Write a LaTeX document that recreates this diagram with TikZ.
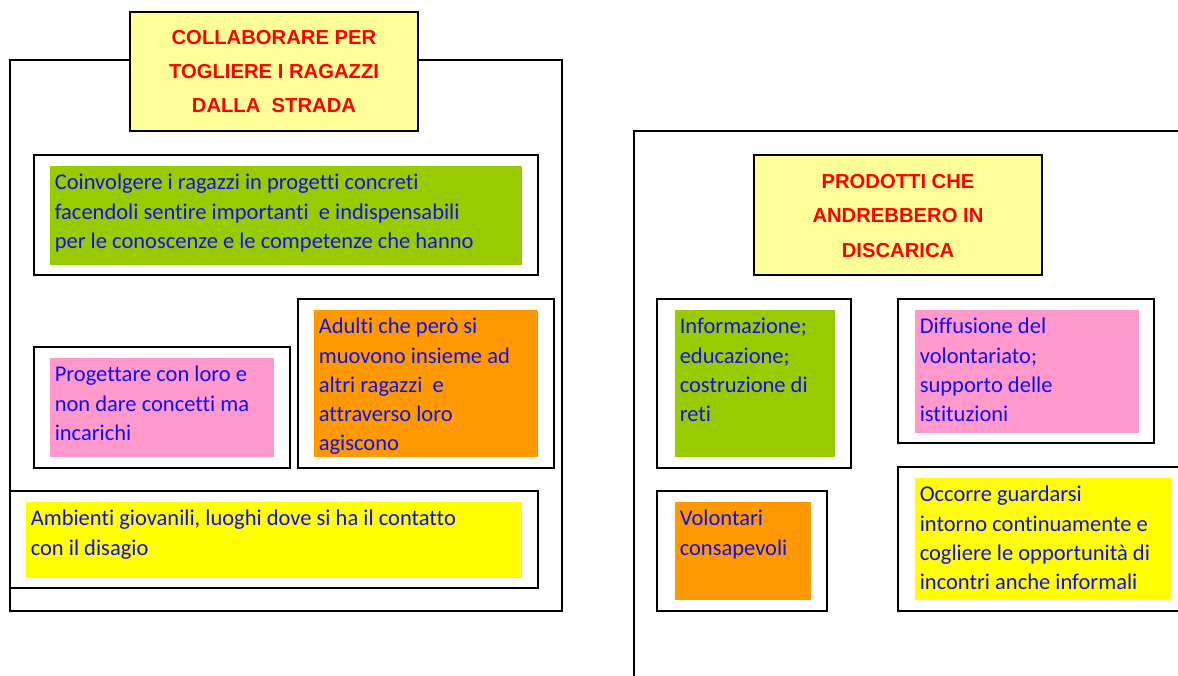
\documentclass[tikz,border=0pt]{standalone}
\usepackage{fontspec}
\setmainfont{Carlito}[Ligatures={NoCommon,NoContextual}]
\newfontfamily\titlefont{Liberation Sans}
\usetikzlibrary{calc}

\definecolor{txtblue}{RGB}{16,16,235}
\definecolor{titlered}{RGB}{255,0,0}
\definecolor{paleyellow}{RGB}{255,255,153}
\definecolor{boxgreen}{RGB}{153,204,0}
\definecolor{boxpink}{RGB}{255,153,204}
\definecolor{boxorange}{RGB}{255,153,0}
\definecolor{boxyellow}{RGB}{255,255,0}

\tikzset{
  frame/.style={draw=black,line width=1.3pt},
  titlebox/.style={draw=black,line width=1.3pt,fill=paleyellow},
  titletext/.style={align=center,text=titlered,font=\titlefont\bfseries\fontsize{14.4}{24.2}\selectfont},
  bodytext/.style={anchor=north west,align=left,inner xsep=3.2pt,inner ysep=5.7pt,text=txtblue,font=\fontsize{16}{20.8}\selectfont}
}

\begin{document}
\begin{tikzpicture}[x=0.025cm,y=-0.025cm]
   \useasboundingbox (0,0) rectangle (1178,676);

   % left group
   \draw[frame] (10,60) rectangle (562,611);
   \filldraw[titlebox] (130,12) rectangle (418,131);
   \node[titletext] (t1) at (274,72) {COLLABORARE PER\\TOGLIERE I RAGAZZI\\DALLA\ \ STRADA};

   \coordinate (a1) at (50,166);
   \coordinate (a2) at (50,358);
   \coordinate (a3) at (314,310);
   \coordinate (a4) at (26,502);

   \draw[frame] (34,155) rectangle (538,275);
   \fill[boxgreen] (a1) rectangle (522,265);
   \draw[frame] (34,347) rectangle (290,468);
   \fill[boxpink] (a2) rectangle (274,457);
   \draw[frame] (298,299) rectangle (554,468);
   \fill[boxorange] (a3) rectangle (538,457);
   \draw[frame] (10,491) rectangle (538,588);
   \fill[boxyellow] (a4) rectangle (522,578);

   \node[bodytext] (l1) at (a1) {Coinvolgere i ragazzi in progetti concreti\\facendoli sentire importanti\ \ e indispensabili\\per le conoscenze e le competenze che hanno};
   \node[bodytext] (l2) at (a2) {Progettare con loro e\\non dare concetti ma\\incarichi};
   \node[bodytext] (l3) at (a3) {Adulti che però si\\muovono insieme ad\\altri ragazzi\ \ e\\attraverso loro\\agiscono};
   \node[bodytext] (l4) at (a4) {Ambienti giovanili, luoghi dove si ha il contatto\\con il disagio};

   % right group
   \draw[frame] (634,676) -- (634,131) -- (1178,131);
   \filldraw[titlebox] (754,155) rectangle (1042,275);
   \node[titletext] (t2) at (898,216) {PRODOTTI CHE\\ANDREBBERO IN\\DISCARICA};

   \coordinate (b1) at (675,310);
   \coordinate (b2) at (915,310);
   \coordinate (b3) at (675,502);
   \coordinate (b4) at (915,478);

   \draw[frame] (657,299) rectangle (851,468);
   \fill[boxgreen] (b1) rectangle (835,457);
   \draw[frame] (898,299) rectangle (1154,443);
   \fill[boxpink] (b2) rectangle (1139,433);
   \draw[frame] (657,491) rectangle (827,611);
   \fill[boxorange] (b3) rectangle (811,600);
   \draw[frame] (1180,467) -- (898,467) -- (898,611) -- (1180,611);
   \fill[boxyellow] (b4) rectangle (1171,600);

   \node[bodytext] (r1) at (b1) {Informazione;\\educazione;\\costruzione di\\reti};
   \node[bodytext] (r2) at (b2) {Diffusione del\\volontariato;\\supporto delle\\istituzioni};
   \node[bodytext] (r3) at (b3) {Volontari\\consapevoli};
   \node[bodytext] (r4) at (b4) {Occorre guardarsi\\intorno continuamente e\\cogliere le opportunità di\\incontri anche informali};
\end{tikzpicture}
\end{document}
